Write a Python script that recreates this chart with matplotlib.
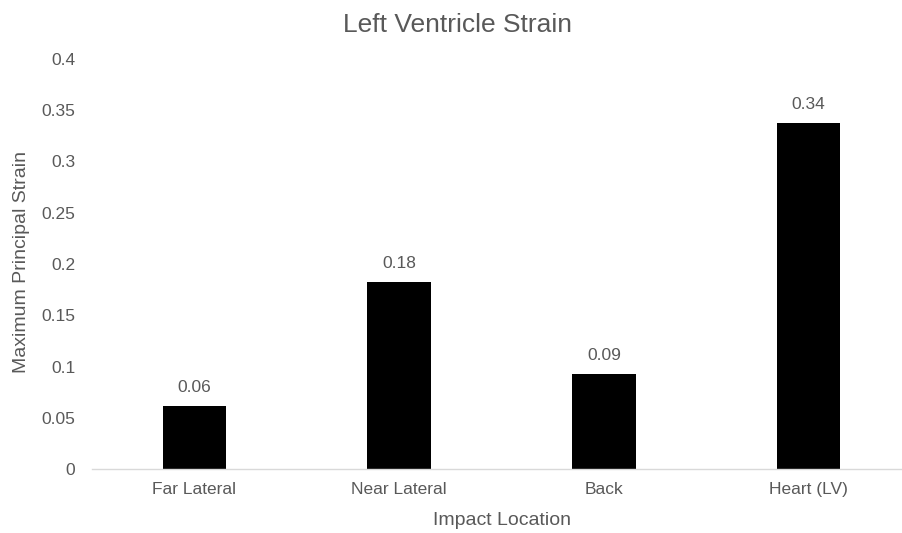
import matplotlib
matplotlib.use("Agg")
import matplotlib.pyplot as plt

plt.rcParams['font.family'] = ['Liberation Sans', 'DejaVu Sans']

# --- Data ---
locations = ["Far Lateral", "Near Lateral", "Back", "Heart (LV)"]
max_strain = [0.062, 0.183, 0.093, 0.338]
y_ticks = [0, 0.05, 0.1, 0.15, 0.2, 0.25, 0.3, 0.35, 0.4]
y_tick_labels = ["0", "0.05", "0.1", "0.15", "0.2", "0.25", "0.3", "0.35", "0.4"]

text_grey = '#595959'
axis_grey = '#d9d9d9'

fig = plt.figure(figsize=(9.02, 5.33), dpi=100)
ax = fig.add_axes([0.102, 0.1195, 0.908, 0.770])

x = range(len(locations))
bars = ax.bar(x, max_strain, width=0.31, color='black')

# value labels above each bar
for xi, val in zip(x, max_strain):
    ax.annotate(f"{val:.2f}", xy=(xi, val), xytext=(0, 10), textcoords='offset points',
                ha='center', va='baseline', fontsize=12.5, color=text_grey)

ax.set_xlim(-0.5, len(locations) - 0.5)
ax.set_ylim(0, 0.4)
ax.set_xticks(list(x))
ax.set_xticklabels(locations)
ax.set_yticks(y_ticks)
ax.set_yticklabels(y_tick_labels)

for side in ['top', 'right', 'left']:
    ax.spines[side].set_visible(False)
ax.spines['bottom'].set_color(axis_grey)
ax.spines['bottom'].set_linewidth(1.0)

ax.tick_params(axis='x', length=0, pad=9, labelsize=12.5, labelcolor=text_grey)
ax.tick_params(axis='y', length=0, pad=12, labelsize=12.5, labelcolor=text_grey)

fig.text(457.6 / 902, 1 - 32 / 533, "Left Ventricle Strain", ha='center', va='baseline',
         fontsize=19, color=text_grey)
fig.text(501.5 / 902, 1 - 525 / 533, "Impact Location", ha='center', va='baseline',
         fontsize=14, color=text_grey)
fig.text(22 / 902, 1 - 262 / 533, "Maximum Principal Strain", ha='center', va='center',
         rotation=90, fontsize=14, color=text_grey)

fig.savefig("out.png", dpi=100)
